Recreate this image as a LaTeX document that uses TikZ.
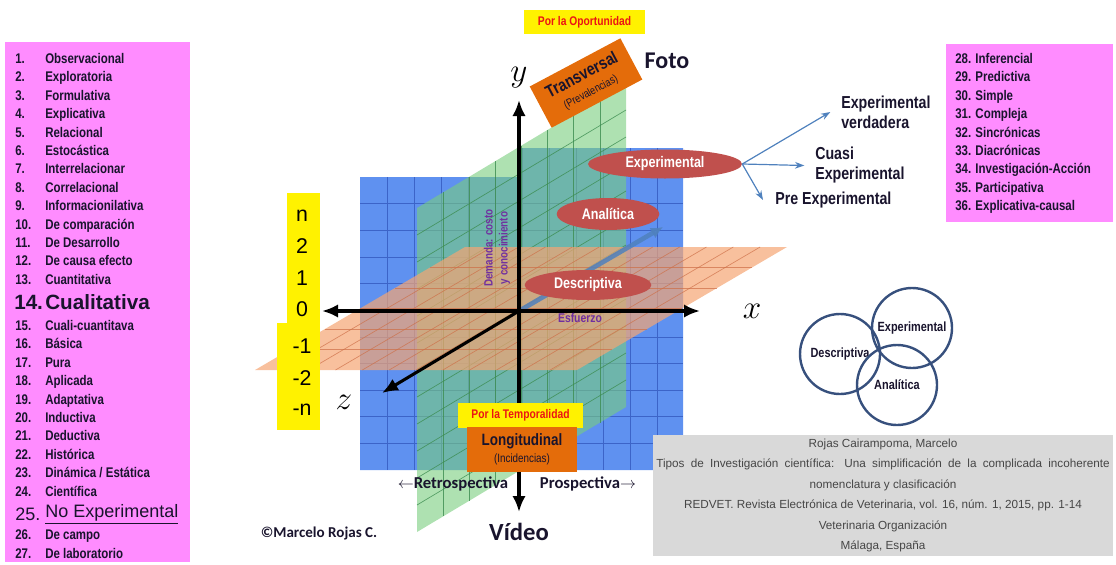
\documentclass[tikz,border=0pt]{standalone}
\usepackage{fontspec}
\setmainfont{Liberation Sans}
\newfontfamily\narrow[FakeStretch=0.82]{Liberation Sans}
\newfontfamily\cali{Carlito}
\usetikzlibrary{arrows.meta,shapes.geometric}

\definecolor{listpink}{RGB}{255,140,255}
\definecolor{listtext}{RGB}{25,20,45}
\definecolor{porred}{RGB}{235,20,20}
\definecolor{boxorange}{RGB}{228,108,10}
\definecolor{ovalred}{RGB}{192,80,77}
\definecolor{citegray}{RGB}{217,217,217}
\definecolor{citetext}{RGB}{70,70,70}
\definecolor{planeblue}{RGB}{95,145,240}
\definecolor{gridblue}{RGB}{60,100,200}
\definecolor{planegreen}{RGB}{120,205,125}
\definecolor{gridgreen}{RGB}{60,140,80}
\definecolor{planeorange}{RGB}{245,165,115}
\definecolor{gridorange}{RGB}{205,110,70}
\definecolor{branchblue}{RGB}{79,129,189}
\definecolor{vennblue}{RGB}{55,80,125}
\definecolor{axispurple}{RGB}{112,48,160}

\tikzset{
  item/.style={anchor=west,inner sep=0pt,text=listtext,text height=1.6ex,text depth=.3ex,font=\narrow\bfseries\fontsize{10.5}{12}\selectfont},
  bigitem/.style={anchor=west,inner sep=0pt,text=listtext,font=\fontsize{#1}{#1}\selectfont},
  porbox/.style={fill=yellow,text=porred,inner sep=0pt,font=\narrow\bfseries\fontsize{9.4}{10}\selectfont},
  orangebox/.style={fill=boxorange,align=center,inner sep=0pt,text=listtext,font=\narrow\bfseries},
  oval/.style={ellipse,fill=ovalred,text=white,inner sep=0pt,font=\narrow\bfseries\fontsize{11.5}{12}\selectfont},
  branch/.style={anchor=west,align=left,inner sep=0pt,text=listtext,font=\narrow\bfseries\fontsize{13}{15}\selectfont},
  venn/.style={circle,draw=vennblue,line width=1.8pt,minimum size=60pt,inner sep=0pt,text=listtext,font=\narrow\bfseries\fontsize{10}{11}\selectfont},
  numtxt/.style={inner sep=0pt,font=\fontsize{16}{16}\selectfont},
  axislabel/.style={inner sep=0pt,font=\fontsize{28}{28}\selectfont},
  axis/.style={line width=2.3pt,-{Latex[length=12pt,width=10pt]}},
  purp/.style={text=axispurple,inner sep=0pt,font=\narrow\bfseries\fontsize{9}{11.25}\selectfont},
  big/.style={inner sep=0pt,text=listtext,font=\cali\bfseries\fontsize{#1}{#1}\selectfont}
}

\begin{document}
\begin{tikzpicture}[x=0.75pt,y=-0.75pt]
\useasboundingbox (0,0) rectangle (1116,564);
%lists
\fill[listpink] (5,42) rectangle (190,562);
\fill[listpink] (946,44) rectangle (1113,222);
\foreach \n/\t [count=\k] in {1/Observacional,2/Exploratoria,3/Formulativa,4/Explicativa,5/Relacional,6/Estocástica,7/Interrelacionar,8/Correlacional,9/Informacionilativa,10/De comparación,11/De Desarrollo,12/De causa efecto,13/Cuantitativa}{
  \node[item] (n\n) at (15,59+18.4*\k-18.4) {\n.};
  \node[item] (t\n) at (45,59+18.4*\k-18.4) {\t};
}
\node[bigitem=15.5] (n14) at (14,302) {\bfseries 14.};
\node[bigitem=15.5] (t14) at (45,302) {\bfseries Cualitativa};
\foreach \n/\t [count=\k] in {15/Cuali-cuantitava,16/Básica,17/Pura,18/Aplicada,19/Adaptativa,20/Inductiva,21/Deductiva,22/Histórica,23/{Dinámica / Estática},24/Científica}{
  \node[item] (n\n) at (15,326+18.4*\k-18.4) {\n.};
  \node[item] (t\n) at (45,326+18.4*\k-18.4) {\t};
}
\node[bigitem=13.5] (n25) at (15,514) {25.};
\node[bigitem=13.5] (t25) at (45,514) {\underline{No Experimental}};
\node[item] (n26) at (15,535) {26.};
\node[item] (t26) at (45,535) {De campo};
\node[item] (n27) at (15,554) {27.};
\node[item] (t27) at (45,554) {De laboratorio};
\foreach \t [count=\k] in {28. Inferencial,29. Predictiva,30. Simple,31. Compleja,32. Sincrónicas,33. Diacrónicas,34. Investigación-Acción,35. Participativa,36. Explicativa-causal}
  \node[item] (r\k) at (955,59+18.4*\k-18.4) {\t};
%planes
\fill[planeblue] (360,177) -- (519,177) -- (519,148) -- (683,148) -- (683,470) -- (360,470) -- cycle;
\foreach \i in {1,...,5} \draw[gridblue,line width=0.5pt] (360+27*\i,177) -- (360+27*\i,470);
\foreach \i in {6,...,11} \draw[gridblue,line width=0.5pt] (360+27*\i,148) -- (360+27*\i,470);
\foreach \j in {1,...,10} \draw[gridblue,line width=0.5pt] (360,177+26.64*\j) -- (683,177+26.64*\j);
\fill[planegreen,opacity=0.6] (417,208) -- (626,83) -- (626,407) -- (417,532) -- cycle;
\foreach \i in {1,...,7} \draw[gridgreen,line width=0.5pt,opacity=0.8] (417+26.125*\i,208-15.625*\i) -- (417+26.125*\i,532-15.625*\i);
\foreach \j in {1,...,11} \draw[gridgreen,line width=0.5pt,opacity=0.8] (417,208+27*\j) -- (626,83+27*\j);
\fill[planeorange,opacity=0.7] (255,370) -- (577,370) -- (787,247) -- (465,247) -- cycle;
\foreach \i in {1,...,11} \draw[gridorange,line width=0.5pt,opacity=0.7] (255+26.83*\i,370) -- (465+26.83*\i,247);
\foreach \j in {1,...,5} \draw[gridorange,line width=0.5pt,opacity=0.7] (255+35*\j,370-20.5*\j) -- (577+35*\j,370-20.5*\j);
%axes
\coordinate (o) at (519,311);
\coordinate (dtip) at (663,227);
\draw[line width=3.5pt,branchblue,opacity=0.85,-{Latex[length=9pt,width=9pt]}] (o) -- (dtip);
\node[oval,minimum width=115.5pt,minimum height=21.75pt] (exper) at (665,164) {Experimental};
\node[oval,minimum width=77pt,minimum height=24pt] (anal) at (608,214) {Analítica};
\node[oval,minimum width=95pt,minimum height=22.5pt] (descr) at (588,285) {Descriptiva};
\coordinate (ytip) at (519,100);
\coordinate (vtip) at (519,512);
\coordinate (xtip) at (700,311);
\coordinate (mtip) at (322,311);
\coordinate (ztip) at (382,393);
\draw[axis] (o) -- (ytip);
\draw[axis] (o) -- (vtip);
\draw[axis] (o) -- (xtip);
\draw[axis] (o) -- (mtip);
\draw[axis] (o) -- (ztip);
\node[axislabel] (ylab) at (519,78) {$y$};
\node[axislabel] (xlab) at (752,311) {$x$};
\node[axislabel] (zlab) at (344,402) {$z$};
\node[purp,rotate=90,align=center] (dem) at (497,248) {Demanda: costo\\y conocimiento};
\node[purp,font=\narrow\bfseries\fontsize{9.5}{10}\selectfont] (esf) at (580,318) {Esfuerzo};
%numbers
\fill[yellow] (287,193) rectangle (320,324);
\fill[yellow] (277,323) rectangle (320,430);
\foreach \v/\yy [count=\k] in {n/216,2/246,1/278,0/309,-1/346,-2/378,-n/410}
  \node[numtxt] (v\k) at (302,\yy) {\v};
%boxes
\node[porbox,minimum width=90.75pt,minimum height=18pt] (opor) at (584.5,22) {Por la Oportunidad};
\node[orangebox,rotate=28,minimum width=77pt,minimum height=35pt] (trans) at (586,83) {\fontsize{13}{14}\selectfont Transversal\\[1pt]{\mdseries\fontsize{8.5}{9}\selectfont(Prevalencias)}};
\node[big=18] (foto) at (667,61) {Foto};
\node[porbox,minimum width=93.75pt,minimum height=18.75pt] (otemp) at (520.5,415.5) {Por la Temporalidad};
\node[orangebox,minimum width=82.5pt,minimum height=33.75pt] (longi) at (522,449.5) {\fontsize{12.3}{14}\selectfont Longitudinal\\[1pt]{\mdseries\fontsize{9}{10}\selectfont(Incidencias)}};
\node[big=12.5] (retro) at (453,484) {$\leftarrow$Retrospectiva};
\node[big=12.5] (prosp) at (588,484) {Prospectiva$\rightarrow$};
\node[big=18.5] (video) at (519,532) {Vídeo};
\node[big=11.3] (autor) at (319,533) {©Marcelo Rojas C.};
%branches
\node[branch] (verd) at (841,112) {Experimental\\verdadera};
\node[branch] (cuasi) at (815,165.5) {Cuasi\\Experimental};
\node[branch] (pre) at (775,200) {Pre Experimental};
\draw[branchblue,line width=0.9pt,-{Stealth[length=7pt,width=5pt]}] (exper.east) -- ([xshift=-8pt]verd.west);
\draw[branchblue,line width=0.9pt,-{Stealth[length=7pt,width=5pt]}] (exper.east) -- ([xshift=-8pt]cuasi.west);
\draw[branchblue,line width=0.9pt,-{Stealth[length=7pt,width=5pt]}] (exper.east) -- ([xshift=-9pt]pre.west);
%venn
\node[venn] (vdes) at (840,354) {Descriptiva};
\node[venn] (vexp) at (912,328) {Experimental};
\node[venn] (vana) at (897,385) {Analítica};
%cita
\node[fill=citegray,minimum width=345pt,minimum height=90.75pt,inner sep=0pt,align=center,text=citetext,font=\fontsize{8.8}{15.3}\selectfont] (cite) at (883,495.5) {Rojas Cairampoma, Marcelo\\\makebox[340pt][s]{Tipos de Investigación científica: Una simplificación de la complicada incoherente}\\nomenclatura y clasificación\\REDVET. Revista Electrónica de Veterinaria, vol. 16, núm. 1, 2015, pp. 1-14\\Veterinaria Organización\\Málaga, España};
\end{tikzpicture}
\end{document}
